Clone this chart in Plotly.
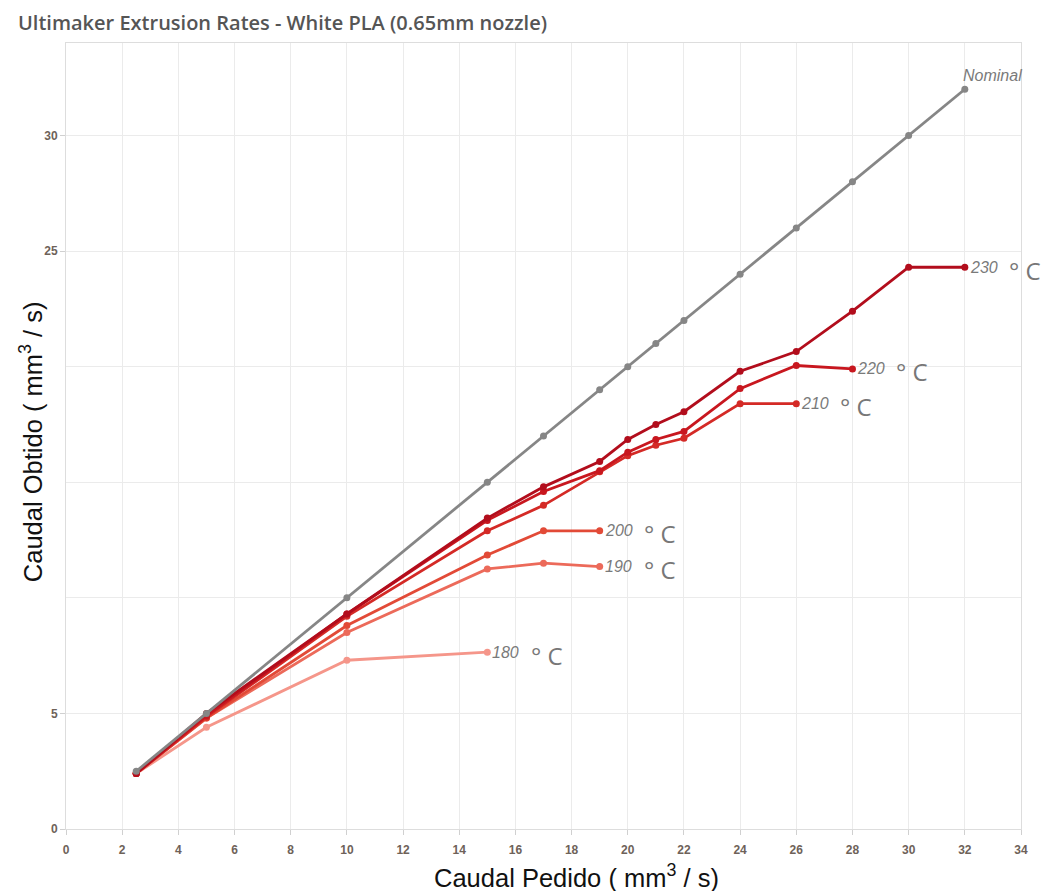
import plotly.graph_objects as go

# ---------------- data ----------------
nominal_x = [2.5, 5, 10, 15, 17, 19, 20, 21, 22, 24, 26, 28, 30, 32]
nominal_y = [2.5, 5, 10, 15, 17, 19, 20, 21, 22, 24, 26, 28, 30, 32]

t230_x = [2.5, 5, 10, 15, 17, 19, 20, 21, 22, 24, 26, 28, 30, 32]
t230_y = [2.4, 5.0, 9.3, 13.45, 14.8, 15.9, 16.85, 17.5, 18.05, 19.8, 20.65, 22.4, 24.3, 24.3]

t220_x = [2.5, 5, 10, 15, 17, 19, 20, 21, 22, 24, 26, 28]
t220_y = [2.4, 4.9, 9.3, 13.35, 14.6, 15.5, 16.3, 16.85, 17.2, 19.05, 20.05, 19.9]

t210_x = [2.5, 5, 10, 15, 17, 19, 20, 21, 22, 24, 26]
t210_y = [2.4, 4.85, 9.2, 12.9, 14.0, 15.45, 16.15, 16.6, 16.9, 18.4, 18.4]

t200_x = [2.5, 5, 10, 15, 17, 19]
t200_y = [2.4, 4.8, 8.8, 11.85, 12.9, 12.9]

t190_x = [2.5, 5, 10, 15, 17, 19]
t190_y = [2.4, 4.8, 8.5, 11.25, 11.5, 11.35]

t180_x = [2.5, 5, 10, 15]
t180_y = [2.4, 4.4, 7.3, 7.65]

series_labels = ["180", "190", "200", "210", "220", "230"]
series_x = [t180_x, t190_x, t200_x, t210_x, t220_x, t230_x]
series_y = [t180_y, t190_y, t200_y, t210_y, t220_y, t230_y]
series_colors = ["#f5968a", "#ec6a5a", "#e24a37", "#d42a26", "#c8171f", "#b20d1c"]

nominal_label = "Nominal"
degree_text = "° C"

x_ticks = list(range(0, 35, 2))
y_ticks = [0, 5, 25, 30]
y_minor_grid = [10, 15, 20]

title_text = "Ultimaker Extrusion Rates - White PLA (0.65mm nozzle)"
x_title = "Caudal Pedido ( mm<sup>3</sup> / s)"
y_title = "Caudal Obtido ( mm<sup>3</sup> / s)"

# ---------------- figure ----------------
fig = go.Figure()

for lab, xs, ys, col in zip(series_labels, series_x, series_y, series_colors):
    fig.add_trace(go.Scatter(
        x=xs, y=ys, mode="lines+markers", name=lab,
        line=dict(color=col, width=2.8),
        marker=dict(color=col, size=7),
        cliponaxis=False,
    ))

fig.add_trace(go.Scatter(
    x=nominal_x, y=nominal_y, mode="lines+markers", name=nominal_label,
    line=dict(color="#868686", width=2.8),
    marker=dict(color="#868686", size=7),
    cliponaxis=False,
))

annotations = []
for lab, xs, ys in zip(series_labels, series_x, series_y):
    annotations.append(dict(
        x=xs[-1], y=ys[-1], xref="x", yref="y",
        text="<i>" + lab + "</i>", showarrow=False,
        xanchor="left", yanchor="middle", xshift=3,
        font=dict(family="Arial, Liberation Sans", size=16, color="#7a7a7a"),
    ))
    annotations.append(dict(
        x=xs[-1], y=ys[-1], xref="x", yref="y",
        text=degree_text, showarrow=False,
        xanchor="left", yanchor="middle", xshift=42, yshift=-3,
        font=dict(family="Open Sans, Arial", size=24, color="#777777"),
    ))

annotations.append(dict(
    x=nominal_x[-1], y=nominal_y[-1], xref="x", yref="y",
    text="<i>" + nominal_label + "</i>", showarrow=False,
    xanchor="left", yanchor="middle", xshift=-4, yshift=14,
    font=dict(family="Arial, Liberation Sans", size=16, color="#7a7a7a"),
))

annotations.append(dict(
    x=0.535, y=-0.060, xref="paper", yref="paper",
    text=x_title, showarrow=False, xanchor="center", yanchor="middle",
    font=dict(family="Arial, Liberation Sans", size=25.5, color="#111111"),
))
annotations.append(dict(
    x=-0.037, y=0.493, xref="paper", yref="paper",
    text=y_title, showarrow=False, xanchor="center", yanchor="middle",
    textangle=-90,
    font=dict(family="Arial, Liberation Sans", size=25.5, color="#111111"),
))

tick_font = dict(family="Arial, Liberation Sans", size=12, color="#6e6259", weight="bold")

fig.update_layout(
    width=1042, height=891,
    margin=dict(l=66, r=21, t=43, b=62),
    paper_bgcolor="white", plot_bgcolor="white",
    showlegend=False,
    title=dict(
        text=title_text, x=18 / 1042, xanchor="left", y=1 - 23 / 891, yanchor="middle",
        font=dict(family="Open Sans, Arial", size=20, color="#555555", weight=600),
    ),
    annotations=annotations,
    xaxis=dict(
        range=[0, 34], tickvals=x_ticks, ticktext=[str(v) for v in x_ticks],
        showgrid=True, gridcolor="#ebebeb", gridwidth=1,
        showline=True, linecolor="#dddddd", linewidth=1, mirror=True,
        ticks="outside", ticklen=5, tickcolor="#d0d0d0",
        ticklabelstandoff=5,
        tickfont=tick_font, zeroline=False,
    ),
    yaxis=dict(
        range=[0, 34], tickvals=y_ticks, ticktext=[str(v) for v in y_ticks],
        showgrid=True, gridcolor="#ebebeb", gridwidth=1,
        minor=dict(tickvals=y_minor_grid, showgrid=True, gridcolor="#ebebeb", ticks=""),
        showline=True, linecolor="#dddddd", linewidth=1, mirror=True,
        ticks="outside", ticklen=5, tickcolor="#d0d0d0",
        tickfont=tick_font, zeroline=False,
    ),
)

fig.write_html("out.html", config={"displayModeBar": False},
               post_script="document.body.style.margin='0';")
